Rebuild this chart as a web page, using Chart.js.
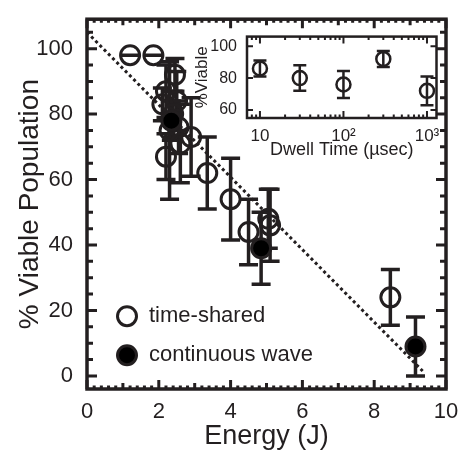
<!DOCTYPE html>
<html>
<head>
<meta charset="utf-8">
<script src="https://cdn.jsdelivr.net/npm/chart.js@4"></script>
<style>
  html, body { margin: 0; padding: 0; background: #fff; }
  #wrap { position: relative; width: 467px; height: 453px; }
  #main { position: absolute; left: 0; top: 0; }
  #inset { position: absolute; left: 190px; top: 25px; }
</style>
</head>
<body>
<div id="wrap">
  <canvas id="main" width="467" height="453"></canvas>
  <canvas id="inset" width="256" height="140"></canvas>
</div>
<script>
// Main plot data
const tsEnergy = [1.2, 1.85, 2.45, 2.2, 2.1, 2.5, 2.4, 2.55, 2.3, 2.6, 2.9, 2.2, 3.35, 4.0, 4.5, 5.05, 5.1, 8.45];
const tsViable = [98, 98, 92, 87, 83, 84, 80, 76, 75, 71, 73, 67, 62, 54, 44, 48, 46, 24];
const tsError  = [0, 0, 5, 8, 5, 9, 7, 8, 21, 12, 12, 7, 11, 12.5, 10, 9, 11, 8.5];
const cwEnergy = [2.35, 4.85, 9.15];
const cwViable = [78, 39, 9];
const cwError  = [6, 11, 9];
const fitEnergy = [0, 9.35];
const fitViable = [105, 1.5];
const xTicks = [0, 2, 4, 6, 8, 10];
const yTicks = [0, 20, 40, 60, 80, 100];

// Inset data
const dwellTime   = [10, 30, 100, 300, 1000];
const dwellViable = [86, 80, 76, 92, 72];
const dwellError  = [5, 8, 8.5, 5, 9];
const insetXTicks  = [10, 100, 1000];
const insetXLabels = ["10", "10\u00b2", "10\u00b3"];
const insetYTicks  = [60, 80, 100];

const ink = "#231f20";
Chart.defaults.font.family = "'Liberation Sans', Arial, sans-serif";
Chart.defaults.color = ink;

const toPoints = (xs, ys) => xs.map((v, i) => ({ x: v, y: ys[i] }));

// error bars with caps, drawn under the markers
const errorBars = (width, cap) => ({
  id: "errorBars",
  beforeDatasetsDraw(chart) {
    const { ctx, scales: { x, y } } = chart;
    ctx.save();
    ctx.strokeStyle = ink;
    ctx.lineWidth = width;
    chart.data.datasets.forEach((ds) => {
      if (!ds.errors) return;
      ds.data.forEach((p, i) => {
        const e = ds.errors[i];
        const px = x.getPixelForValue(p.x);
        const top = y.getPixelForValue(p.y + e);
        const bot = y.getPixelForValue(p.y - e);
        ctx.beginPath();
        ctx.moveTo(px, top); ctx.lineTo(px, bot);
        ctx.moveTo(px - cap, top); ctx.lineTo(px + cap, top);
        ctx.moveTo(px - cap, bot); ctx.lineTo(px + cap, bot);
        ctx.stroke();
      });
    });
    ctx.restore();
  },
});

// box frame with inward ticks on all four sides
const frameTicks = (xMarks, yMarks, tickWidth, frameWidth) => ({
  id: "frameTicks",
  afterDraw(chart) {
    const { ctx, chartArea: a, scales: { x, y } } = chart;
    ctx.save();
    ctx.strokeStyle = ink;
    ctx.lineWidth = tickWidth;
    ctx.beginPath();
    xMarks.forEach(([v, len]) => {
      const px = x.getPixelForValue(v);
      ctx.moveTo(px, a.bottom); ctx.lineTo(px, a.bottom - len);
      ctx.moveTo(px, a.top); ctx.lineTo(px, a.top + len);
    });
    yMarks.forEach(([v, len]) => {
      const py = y.getPixelForValue(v);
      ctx.moveTo(a.left, py); ctx.lineTo(a.left + len, py);
      ctx.moveTo(a.right, py); ctx.lineTo(a.right - len, py);
    });
    ctx.stroke();
    ctx.lineWidth = frameWidth;
    ctx.strokeRect(a.left, a.top, a.right - a.left, a.bottom - a.top);
    ctx.restore();
  },
});

// legend inside the plot
const legendOrder = ["time-shared", "continuous wave"];
const legendBox = {
  id: "legendBox",
  afterDatasetsDraw(chart) {
    const { ctx, chartArea: a } = chart;
    ctx.save();
    ctx.font = "22px 'Liberation Sans', Arial, sans-serif";
    ctx.textBaseline = "middle";
    legendOrder.forEach((name, i) => {
      const ds = chart.data.datasets.find((d) => d.label === name);
      const cx = a.left + 40;
      const cy = a.top + 297 + i * 39;
      ctx.beginPath();
      ctx.arc(cx, cy, 9.5, 0, Math.PI * 2);
      ctx.fillStyle = ds.backgroundColor;
      ctx.fill();
      ctx.lineWidth = 3;
      ctx.strokeStyle = ink;
      ctx.stroke();
      ctx.fillStyle = ink;
      ctx.fillText(ds.label, cx + 22, cy);
    });
    ctx.restore();
  },
};

// tick marks for the main frame
const mainXMarks = [];
for (let i = 0; i <= 50; i++) mainXMarks.push([i / 5, i % 10 === 0 ? 9 : i % 5 === 0 ? 6 : 3.5]);
const mainYMarks = [];
for (let i = 0; i <= 21; i++) mainYMarks.push([i * 5, i % 4 === 0 ? 10 : 6]);

new Chart(document.getElementById("main"), {
  type: "scatter",
  data: {
    datasets: [
      {
        label: "continuous wave",
        data: toPoints(cwEnergy, cwViable),
        errors: cwError,
        pointRadius: 9.5,
        borderWidth: 3,
        borderColor: ink,
        backgroundColor: "#000",
        order: 1,
      },
      {
        label: "time-shared",
        data: toPoints(tsEnergy, tsViable),
        errors: tsError,
        pointRadius: 9.5,
        borderWidth: 3,
        borderColor: ink,
        backgroundColor: "rgba(255,255,255,0)",
        order: 2,
      },
      {
        label: "fit",
        type: "line",
        data: toPoints(fitEnergy, fitViable),
        borderColor: ink,
        borderWidth: 3,
        borderDash: [3, 3],
        pointRadius: 0,
        fill: false,
        order: 3,
      },
    ],
  },
  options: {
    responsive: false,
    animation: false,
    layout: { padding: { top: 11, right: 21, left: 0, bottom: 0 } },
    plugins: { legend: { display: false }, tooltip: { enabled: false } },
    scales: {
      x: {
        type: "linear",
        min: 0,
        max: 10,
        afterBuildTicks: (s) => { s.ticks = xTicks.map((v) => ({ value: v })); },
        afterFit: (s) => { s.height = 64; },
        grid: { display: false },
        border: { display: false },
        ticks: { padding: 2, font: { size: 22 }, color: ink, maxRotation: 0 },
        title: { display: true, text: "Energy (J)", font: { size: 27 }, color: ink, padding: { top: 0, bottom: 0 } },
      },
      y: {
        type: "linear",
        min: -4,
        max: 109,
        afterBuildTicks: (s) => { s.ticks = yTicks.map((v) => ({ value: v })); },
        afterFit: (s) => { s.width = 87; },
        grid: { display: false },
        border: { display: false },
        ticks: { padding: 6, font: { size: 22 }, color: ink },
        title: { display: true, text: "% Viable Population", font: { size: 28 }, color: ink, padding: { top: 13, bottom: 0 } },
      },
    },
  },
  plugins: [errorBars(3.5, 9.5), frameTicks(mainXMarks, mainYMarks, 3, 3.5), legendBox],
});

// tick marks for the inset frame (log x axis)
const insetXMarks = [];
[1, 10, 100, 1000].forEach((d) => {
  for (let k = 1; k <= 9; k++) {
    const v = d * k;
    if (v >= 7 && v <= 1300) insetXMarks.push([v, k === 1 ? 7 : 3.5]);
  }
});
const insetYMarks = insetYTicks.map((v) => [v, 6]);

const whiteArea = {
  id: "whiteArea",
  beforeDraw(chart) {
    const { ctx, chartArea: a } = chart;
    ctx.save();
    ctx.fillStyle = "#fff";
    ctx.fillRect(a.left, a.top, a.right - a.left, a.bottom - a.top);
    ctx.restore();
  },
};

new Chart(document.getElementById("inset"), {
  type: "scatter",
  data: {
    datasets: [
      {
        label: "dwell",
        data: toPoints(dwellTime, dwellViable),
        errors: dwellError,
        pointRadius: 7,
        borderWidth: 2.5,
        borderColor: ink,
        backgroundColor: "rgba(255,255,255,0)",
      },
    ],
  },
  options: {
    responsive: false,
    animation: false,
    layout: { padding: { top: 5, right: 6, left: 0, bottom: 0 } },
    plugins: { legend: { display: false }, tooltip: { enabled: false } },
    scales: {
      x: {
        type: "logarithmic",
        min: 7,
        max: 1300,
        afterBuildTicks: (s) => { s.ticks = insetXTicks.map((v) => ({ value: v })); },
        afterFit: (s) => { s.height = 47; },
        grid: { display: false },
        border: { display: false },
        ticks: {
          padding: 0,
          font: { size: 17 },
          color: ink,
          maxRotation: 0,
          callback: (v) => insetXLabels[insetXTicks.indexOf(v)],
        },
        title: { display: true, text: "Dwell Time (\u00b5sec)", font: { size: 18 }, color: ink, padding: { top: 0, bottom: 4 } },
      },
      y: {
        type: "linear",
        min: 55,
        max: 106,
        afterBuildTicks: (s) => { s.ticks = insetYTicks.map((v) => ({ value: v })); },
        afterFit: (s) => { s.width = 57; },
        grid: { display: false },
        border: { display: false },
        ticks: { padding: 2, font: { size: 16 }, color: ink },
        title: { display: true, text: "%Viable", font: { size: 17 }, color: ink, padding: { top: 2, bottom: 0 } },
      },
    },
  },
  plugins: [whiteArea, errorBars(2.5, 6.5), frameTicks(insetXMarks, insetYMarks, 2, 2.5)],
});
</script>
</body>
</html>
